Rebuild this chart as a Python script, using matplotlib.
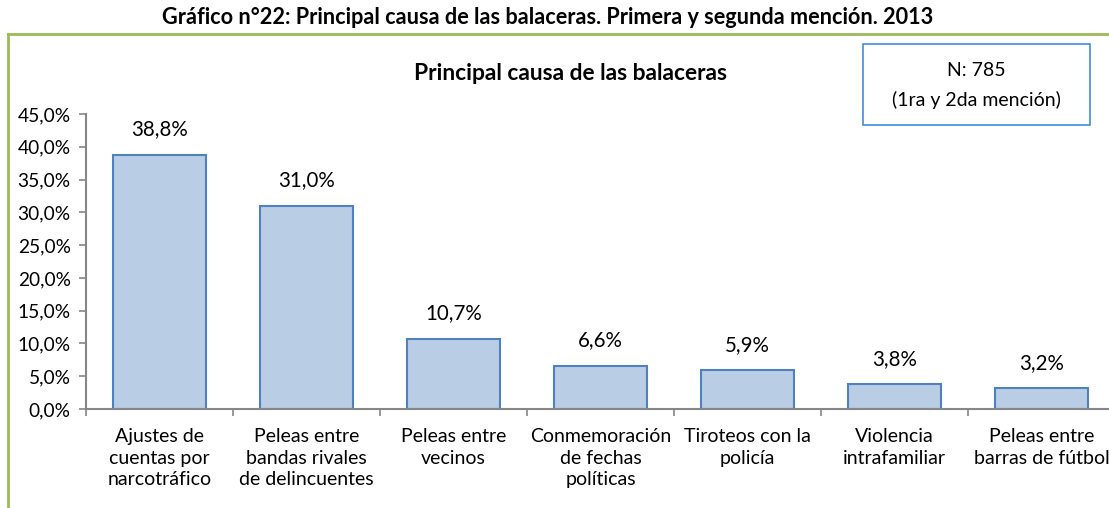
import matplotlib
matplotlib.use("Agg")
from matplotlib import pyplot as plt
from matplotlib.lines import Line2D
from matplotlib.ticker import FuncFormatter, FixedLocator

plt.rcParams['font.family'] = ['Lato', 'DejaVu Sans']

categories = [
    "Ajustes de\ncuentas por\nnarcotráfico",
    "Peleas entre\nbandas rivales\nde delincuentes",
    "Peleas entre\nvecinos",
    "Conmemoración\nde fechas\npolíticas",
    "Tiroteos con la\npolicía",
    "Violencia\nintrafamiliar",
    "Peleas entre\nbarras de fútbol",
]
values = [38.8, 31.0, 10.7, 6.6, 5.9, 3.8, 3.2]
y_ticks = [0, 5, 10, 15, 20, 25, 30, 35, 40, 45]

W, H = 1109, 508
fig = plt.figure(figsize=(W / 100, H / 100), dpi=100)

# axes placed in pixel terms
ax = fig.add_axes([86 / W, (H - 409) / H, 1029 / W, 295 / H])
x = list(range(len(values)))
ax.bar(x, values, width=0.63, color='#B9CDE5', edgecolor='#4F81BD', linewidth=1.5)

for xi, v in zip(x, values):
    ax.annotate(f"{v:.1f}%".replace('.', ','), (xi, v), xytext=(0, 11),
                textcoords='offset points', ha='center', va='bottom', fontsize=14.8)

ax.set_xlim(-0.5, len(values) - 0.5)
ax.set_ylim(0, 45)
ax.yaxis.set_major_locator(FixedLocator(y_ticks))
ax.yaxis.set_major_formatter(FuncFormatter(lambda v, p: f"{v:.1f}%".replace('.', ',')))
ax.set_xticks([i - 0.5 for i in range(len(values) + 1)])
ax.set_xticklabels([])
ax.set_xticks(x, minor=True)
ax.set_xticklabels(categories, minor=True, fontsize=14, linespacing=1.3)
ax.tick_params(axis='x', which='minor', length=0, pad=14)
ax.tick_params(axis='x', which='major', length=5, color='#868686', width=1.2)
ax.tick_params(axis='y', length=5, color='#868686', width=1.2, labelsize=13.8, pad=6)

for s in ['top', 'right']:
    ax.spines[s].set_visible(False)
for s in ['left', 'bottom']:
    ax.spines[s].set_color('#868686')
    ax.spines[s].set_linewidth(1.5)

# green outer frame
fy = 1 - 34 / H
fx = 8 / W
fig.add_artist(Line2D([fx, fx], [0, fy], color='#9BBB59', lw=2, transform=fig.transFigure))
fig.add_artist(Line2D([fx, 1], [fy, fy], color='#9BBB59', lw=2, transform=fig.transFigure))

fig.text(548 / W, 1 - 17 / H, "Gráfico n°22: Principal causa de las balaceras. Primera y segunda mención. 2013",
         ha='center', va='center', fontsize=15.6, fontweight='bold')
fig.text(570 / W, 1 - 74 / H, "Principal causa de las balaceras",
         ha='center', va='center', fontsize=16.4, fontweight='bold')

# N box
bx0, bx1, by0, by1 = 863, 1090, 44, 125
fig.add_artist(plt.Rectangle((bx0 / W, 1 - by1 / H), (bx1 - bx0) / W, (by1 - by0) / H,
                             transform=fig.transFigure, fill=False, edgecolor='#3E8EDE', lw=1.2))
fig.text((bx0 + bx1) / 2 / W, 1 - 71 / H, "N: 785", ha='center', va='center', fontsize=14)
fig.text((bx0 + bx1) / 2 / W, 1 - 100 / H, "(1ra y 2da mención)", ha='center', va='center', fontsize=14)

fig.savefig("out.png", dpi=100)
